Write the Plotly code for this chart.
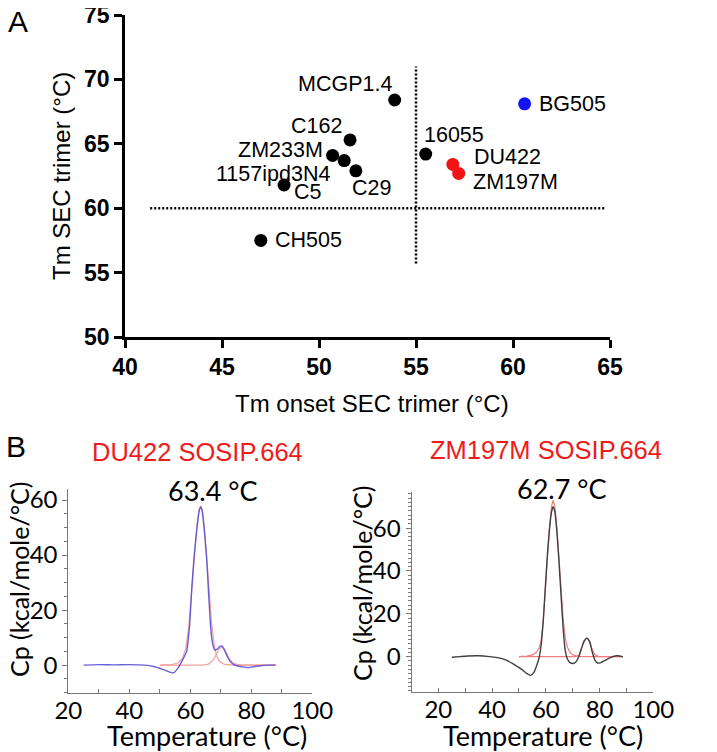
import plotly.graph_objects as go

W, H = 717, 752
OFF = 8  # default page body margin shifts the figure by 8px

# ---------------- Panel A data ----------------
strain_names = ["MCGP1.4", "C162", "ZM233M", "1157ipd3N4", "C29", "C5", "CH505",
                "16055", "DU422", "ZM197M", "BG505"]
tm_onset = [53.9, 51.6, 50.7, 51.3, 51.9, 48.2, 47.0, 55.5, 56.9, 57.2, 60.6]
tm_sec = [68.4, 65.3, 64.1, 63.7, 62.9, 61.8, 57.5, 64.2, 63.4, 62.7, 68.1]
point_group = ["other"] * 8 + ["new", "new", "ref"]

thr_h_x = [41.3, 64.8]
thr_h_y = [60, 60]
thr_v_x = [55, 55]
thr_v_y = [55.7, 71.0]

a_xticks = [40, 45, 50, 55, 60, 65]
a_yticks = [50, 55, 60, 65, 70, 75]

# ---------------- Panel B data ----------------
du_temp = [25, 30, 35, 40, 45, 48, 51, 54.5, 56, 57.5, 58.8, 59.8, 60.5, 61.3, 62.2, 62.9,
           63.4, 63.9, 64.6, 65.4, 66, 66.6, 67.2, 68, 68.8, 69.7, 70.4, 71.2, 72, 73, 74,
           75.5, 77, 79, 81, 83, 85, 88]
du_cp = [0, 0.2, 0.1, 0.2, 0, -0.5, -1.5, -2.8, -1, 2, 5, 15, 28, 40, 50, 56,
         57.5, 56, 49, 38, 26, 15, 8.5, 5.5, 5.8, 6.8, 7, 5.5, 3.5, 1.5, 0.4,
         -0.3, -0.6, -0.9, -0.5, -0.2, 0, 0]
du_fit1_temp = [50, 54, 56, 57.5, 58.5, 59.5, 60.5, 61.3, 62.2, 62.9, 63.4, 63.9, 64.6, 65.4,
                66.2, 67, 67.8, 68.6, 69.5, 71, 74, 88]
du_fit1_cp = [0, 0.2, 0.8, 2.5, 6, 14, 28, 40, 51, 56.5, 57.8, 56.5, 50, 39,
              26, 15, 7.5, 3.5, 1.5, 0.4, 0, 0]
du_fit2_temp = [50, 64, 66, 67.5, 68.5, 69.5, 70.3, 71, 72, 73, 74, 75.5, 77, 88]
du_fit2_cp = [0, 0, 0.4, 1.8, 3.8, 6, 6.6, 6, 4, 2, 0.8, 0.2, 0, 0]

zm_temp = [25, 28, 31, 35, 39, 42, 45, 48, 51, 53, 54.3, 55.5, 56.5, 57.5, 58.3, 59, 59.8,
           60.6, 61.4, 62.1, 62.7, 63.3, 64, 64.8, 65.6, 66.4, 67.2, 68, 69, 70.1, 71.2,
           72.3, 73.3, 74.3, 75.3, 76.3, 77.2, 78.2, 79.3, 80.5, 82, 84, 86.3, 87.5, 88.7]
zm_cp = [-0.3, 0, 0.3, 0.4, 0, -0.5, -1.5, -3.5, -6, -8, -8.8, -7.5, -4.5, -0.5, 6, 16, 32,
         48, 60, 67.5, 70, 68, 60, 46, 30, 14, 3, -1, -2.8, -3.2, -2.5,
         0, 4, 7.5, 8.6, 7, 2.5, -1.5, -3, -2.8, -1.8, -0.5, 0.4, 0.3, -0.2]
zm_fit1_temp = [50, 53, 55, 56.5, 57.5, 58.3, 59, 59.8, 60.6, 61.4, 62.1, 62.7, 63.3, 64, 64.8,
                65.6, 66.4, 67.2, 68, 69, 70, 72, 74, 88]
zm_fit1_cp = [0, 0.2, 0.8, 2, 4, 8, 16, 31, 48, 61, 70, 73, 70.5, 62, 48,
              32, 18, 9, 4.5, 2, 0.8, 0.1, 0, 0]
zm_fit2_temp = [50, 71, 72.3, 73.3, 74.3, 75.3, 76.3, 77.2, 78.2, 79.5, 81, 88]
zm_fit2_cp = [0, 0, 0.5, 3.5, 7, 8.6, 7, 3.5, 1, 0.1, 0, 0]

b_xticks = [20, 40, 60, 80, 100]
du_yticks = [0, 20, 40, 60]
zm_yticks = [0, 20, 40, 60]

# ---------------- styling ----------------
group_colors = {"other": "#000000", "new": "#f01414", "ref": "#1414f0"}
# label offsets (px) relative to the point: (xanchor, xshift, yshift)
label_pos = {
    "MCGP1.4": ("right", -1, 16), "C162": ("right", -6, 14), "ZM233M": ("right", -8, 5),
    "1157ipd3N4": ("right", -12, -13), "C29": ("left", -6, -17), "C5": ("left", 8, -7),
    "CH505": ("left", 12, 0), "16055": ("left", -4, 19), "DU422": ("left", 19, 7),
    "ZM197M": ("left", 12, -9), "BG505": ("left", 12, 0),
}

def px_x(p):
    return (p - OFF) / W

def px_y(p):
    return 1 - (p - OFF) / H

fig = go.Figure()

dotted = dict(color="black", width=2.5, dash="2px,2px")
fig.add_trace(go.Scatter(x=thr_h_x, y=thr_h_y, mode="lines", xaxis="x", yaxis="y",
                         line=dotted, showlegend=False))
fig.add_trace(go.Scatter(x=thr_v_x, y=thr_v_y, mode="lines", xaxis="x", yaxis="y",
                         line=dotted, showlegend=False))
fig.add_trace(go.Scatter(x=tm_onset, y=tm_sec, mode="markers", xaxis="x", yaxis="y",
                         marker=dict(size=13, color=[group_colors[g] for g in point_group],
                                     line=dict(width=0)),
                         showlegend=False, cliponaxis=False))

annotations = []
for name, xv, yv in zip(strain_names, tm_onset, tm_sec):
    anc, xs, ys = label_pos[name]
    annotations.append(dict(x=xv, y=yv, xref="x", yref="y", text=name, showarrow=False,
                            xanchor=anc, yanchor="middle", xshift=xs, yshift=ys,
                            font=dict(family="Arial, Liberation Sans", size=21.5, color="black")))

fig.add_trace(go.Scatter(x=du_fit1_temp, y=du_fit1_cp, mode="lines", xaxis="x2", yaxis="y2",
                         line=dict(color="#f4a0a0", width=1.2), showlegend=False))
fig.add_trace(go.Scatter(x=du_fit2_temp, y=du_fit2_cp, mode="lines", xaxis="x2", yaxis="y2",
                         line=dict(color="#f4a0a0", width=1.2), showlegend=False))
fig.add_trace(go.Scatter(x=du_temp, y=du_cp, mode="lines", xaxis="x2", yaxis="y2",
                         line=dict(color="#5b4fd6", width=1.4, shape="spline", smoothing=0.5),
                         opacity=0.9, showlegend=False))

fig.add_trace(go.Scatter(x=zm_fit1_temp, y=zm_fit1_cp, mode="lines", xaxis="x3", yaxis="y3",
                         line=dict(color="#f08080", width=1.2), showlegend=False))
fig.add_trace(go.Scatter(x=zm_fit2_temp, y=zm_fit2_cp, mode="lines", xaxis="x3", yaxis="y3",
                         line=dict(color="#f08080", width=1.2), showlegend=False))
fig.add_trace(go.Scatter(x=zm_temp, y=zm_cp, mode="lines", xaxis="x3", yaxis="y3",
                         line=dict(color="#404040", width=1.4, shape="spline", smoothing=0.5),
                         showlegend=False))

bold_font = dict(family="Arial, Liberation Sans", size=23, color="black")
calib_font = dict(family="Lato, Open Sans", size=24, color="black")

common = dict(automargin=False, showgrid=False, zeroline=False, ticklabeloverflow="allow")
layout = dict(
    width=W, height=H, margin=dict(l=0, r=0, t=0, b=0, autoexpand=False),
    paper_bgcolor="white", plot_bgcolor="white", showlegend=False,
    xaxis=dict(domain=[px_x(125), px_x(610)], range=[40, 65], anchor="y",
               tickvals=a_xticks, ticktext=[f"<b>{v}</b>" for v in a_xticks],
               showline=True, linecolor="black", linewidth=2.5, ticks="outside",
               ticklen=8, tickwidth=2.5, tickcolor="black", tickfont=bold_font, **common),
    yaxis=dict(domain=[px_y(337), px_y(15)], range=[50, 75], anchor="x",
               tickvals=a_yticks, ticktext=[f"<b>{v}</b>" for v in a_yticks],
               showline=True, linecolor="black", linewidth=2.5, ticks="outside",
               ticklen=8, tickwidth=2.5, tickcolor="black", tickfont=bold_font, **common),
    xaxis2=dict(domain=[px_x(68.3), px_x(312.3)], range=[20, 100], anchor="y2",
                tickvals=b_xticks, showline=True, linecolor="#777777", linewidth=1,
                ticks="inside", ticklen=4, tickcolor="#777777", ticklabelstandoff=-4,
                minor=dict(dtick=10, ticks="inside", ticklen=4, tickcolor="#777777"),
                tickfont=calib_font, **common),
    yaxis2=dict(domain=[px_y(692.7), px_y(489)], range=[-10, 64], anchor="x2",
                tickvals=du_yticks, showline=True, linecolor="#777777", linewidth=1,
                ticks="outside", ticklen=5, tickcolor="#777777",
                minor=dict(dtick=5, ticks="outside", ticklen=3, tickcolor="#777777"),
                tickfont=calib_font, **common),
    xaxis3=dict(domain=[px_x(411.5), px_x(653.3)], range=[10, 100], anchor="y3",
                tickvals=b_xticks, showline=True, linecolor="#777777", linewidth=1,
                ticks="inside", ticklen=4, tickcolor="#777777", ticklabelstandoff=-4,
                minor=dict(dtick=10, ticks="inside", ticklen=4, tickcolor="#777777"),
                tickfont=calib_font, **common),
    yaxis3=dict(domain=[px_y(691.7), px_y(491.7)], range=[-16.4, 77], anchor="x3",
                tickvals=zm_yticks, showline=True, linecolor="#777777", linewidth=1,
                ticks="outside", ticklen=5, tickcolor="#777777",
                minor=dict(dtick=2, ticks="outside", ticklen=2.5, tickcolor="#777777"),
                tickfont=calib_font, **common),
)

def txt(x, y, text, size, family="Arial, Liberation Sans", color="black", angle=0):
    return dict(x=px_x(x), y=px_y(y), xref="paper", yref="paper", text=text, showarrow=False,
                xanchor="center", yanchor="middle", textangle=angle,
                font=dict(family=family, size=size, color=color))

annotations += [
    txt(18, 22, "A", 30),
    txt(16, 446, "B", 30),
    txt(372, 403, "Tm onset SEC trimer (°C)", 24),
    txt(62, 176, "Tm SEC trimer (°C)", 24, angle=-90),
    txt(197, 452, "DU422 SOSIP.664", 25.5, color="#ee1c1c"),
    txt(546, 450, "ZM197M SOSIP.664", 25.5, color="#ee1c1c"),
    txt(213, 490, "63.4 °C", 27, family="Lato, Open Sans"),
    txt(562, 488, "62.7 °C", 27, family="Lato, Open Sans"),
    txt(19, 580, "Cp (kcal/mole/°C)", 25, family="Lato, Open Sans", angle=-90),
    txt(362, 584, "Cp (kcal/mole/°C)", 25, family="Lato, Open Sans", angle=-90),
    txt(207, 735, "Temperature (°C)", 27, family="Lato, Open Sans"),
    txt(543, 735, "Temperature (°C)", 27, family="Lato, Open Sans"),
]
layout["annotations"] = annotations
fig.update_layout(**layout)

fig.write_html("out.html")
